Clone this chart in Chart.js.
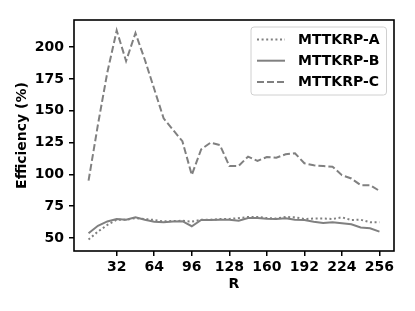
<!DOCTYPE html>
<html>
<head>
<meta charset="utf-8">
<script src="https://cdn.jsdelivr.net/npm/chart.js@4.4.1/dist/chart.umd.min.js"></script>
<style>
  html, body { margin: 0; padding: 0; background: #fff; }
  #wrap { width: 415px; height: 311px; }
</style>
</head>
<body>
<div id="wrap"><canvas id="chart" width="415" height="311"></canvas></div>
<script>
// Data
const rankValues = [8, 16, 24, 32, 40, 48, 56, 64, 72, 80, 88, 96, 104, 112, 120, 128,
  136, 144, 152, 160, 168, 176, 184, 192, 200, 208, 216, 224, 232, 240, 248, 256];
const mttkrpA = [48.7, 55, 60.2, 64.3, 64.3, 65.6, 64.9, 64.1, 63, 63.3, 63.5, 62.8, 64.3, 64.3, 64.9, 64.9,
  65.6, 66.5, 66.5, 65.6, 65.3, 66.5, 66.2, 64.9, 65.3, 65.3, 64.9, 66.2, 64.1, 64.3, 62.3, 62.3];
const mttkrpB = [53.7, 59.6, 63, 64.9, 64.3, 66.2, 64.3, 62.8, 62.3, 63, 63.2, 59.2, 64.1, 64.1, 64.3, 64.3,
  63.5, 65.6, 65.6, 65, 64.9, 65.4, 64.3, 64.1, 62.8, 61.7, 62.3, 61.5, 60.7, 58.3, 57.6, 55];
const mttkrpC = [95, 139, 180, 213, 189, 211, 190, 167, 144, 135, 126, 99.5, 119.6, 124.9, 123, 106.6,
  106.6, 113.9, 110.5, 113.6, 113, 115.7, 116.5, 108.7, 107.1, 106.5, 106, 99.3, 96.7, 91.5, 91.5, 87];
const xTicks = [32, 64, 96, 128, 160, 192, 224, 256];
const yTicks = [50, 75, 100, 125, 150, 175, 200];

const FONT = "'DejaVu Sans', sans-serif";
Chart.defaults.font.family = FONT;
Chart.defaults.font.size = 14;
Chart.defaults.font.weight = "bold";
Chart.defaults.color = "#000";

function toPoints(values) {
  return rankValues.map((r, i) => ({ x: r, y: values[i] }));
}

// Draws the box around the plot area and the legend in the upper right corner
const framePlugin = {
  id: "frame",
  afterDraw(chart) {
    const ctx = chart.ctx;
    const area = chart.chartArea;
    ctx.save();
    ctx.strokeStyle = "#000";
    ctx.lineWidth = 1.6;
    ctx.strokeRect(area.left, area.top, area.right - area.left, area.bottom - area.top);

    // Legend
    const bx = 251, by = 27, bw = 135.5, bh = 68;
    ctx.beginPath();
    ctx.roundRect(bx, by, bw, bh, 3);
    ctx.fillStyle = "rgba(255,255,255,0.8)";
    ctx.fill();
    ctx.strokeStyle = "#d0d0d0";
    ctx.lineWidth = 1;
    ctx.stroke();

    chart.data.datasets.forEach((ds, i) => {
      const y = 39.5 + i * 21.2;
      ctx.beginPath();
      ctx.setLineDash(ds.borderDash || []);
      ctx.strokeStyle = ds.borderColor;
      ctx.lineWidth = ds.borderWidth;
      ctx.moveTo(257, y);
      ctx.lineTo(285, y);
      ctx.stroke();
      ctx.setLineDash([]);
      ctx.fillStyle = "#000";
      ctx.font = "bold 14px " + FONT;
      ctx.textAlign = "left";
      ctx.textBaseline = "middle";
      ctx.fillText(ds.label, 298, y + 0.5);
    });
    ctx.restore();
  }
};

const chart = new Chart(document.getElementById("chart"), {
  type: "line",
  data: {
    datasets: [
      {
        label: "MTTKRP-A",
        data: toPoints(mttkrpA),
        borderColor: "#808080",
        borderWidth: 2,
        borderDash: [2, 2.6],
        pointRadius: 0,
        tension: 0,
      },
      {
        label: "MTTKRP-B",
        data: toPoints(mttkrpB),
        borderColor: "#808080",
        borderWidth: 2,
        pointRadius: 0,
        tension: 0,
      },
      {
        label: "MTTKRP-C",
        data: toPoints(mttkrpC),
        borderColor: "#808080",
        borderWidth: 2,
        borderDash: [7, 3],
        pointRadius: 0,
        tension: 0,
      },
    ],
  },
  options: {
    responsive: false,
    animation: false,
    layout: { padding: { left: 0, top: 20, right: 21, bottom: 0 } },
    plugins: {
      legend: { display: false },
      tooltip: { enabled: false },
    },
    scales: {
      x: {
        type: "linear",
        min: -4.4,
        max: 268.4,
        afterBuildTicks: (axis) => { axis.ticks = xTicks.map(v => ({ value: v })); },
        afterFit: (axis) => { axis.height = 60; },
        grid: { drawOnChartArea: false, drawTicks: true, tickLength: 5, color: "#000", lineWidth: 1.5 },
        border: { display: false },
        ticks: { padding: 3, maxRotation: 0, autoSkip: false, font: { size: 14, weight: "bold" } },
        title: { display: true, text: "R", padding: { top: 0, bottom: 18 }, font: { size: 14, weight: "bold" } },
      },
      y: {
        min: 39.75,
        max: 221.25,
        afterBuildTicks: (axis) => { axis.ticks = yTicks.map(v => ({ value: v })); },
        afterFit: (axis) => { axis.width = 74; },
        grid: { drawOnChartArea: false, drawTicks: true, tickLength: 5, color: "#000", lineWidth: 1.5 },
        border: { display: false },
        ticks: { padding: 5, autoSkip: false, font: { size: 14, weight: "bold" } },
        title: { display: true, text: "Efficiency (%)", padding: { top: 14, bottom: 0 }, font: { size: 14, weight: "bold" } },
      },
    },
  },
  plugins: [framePlugin],
});
</script>
</body>
</html>
